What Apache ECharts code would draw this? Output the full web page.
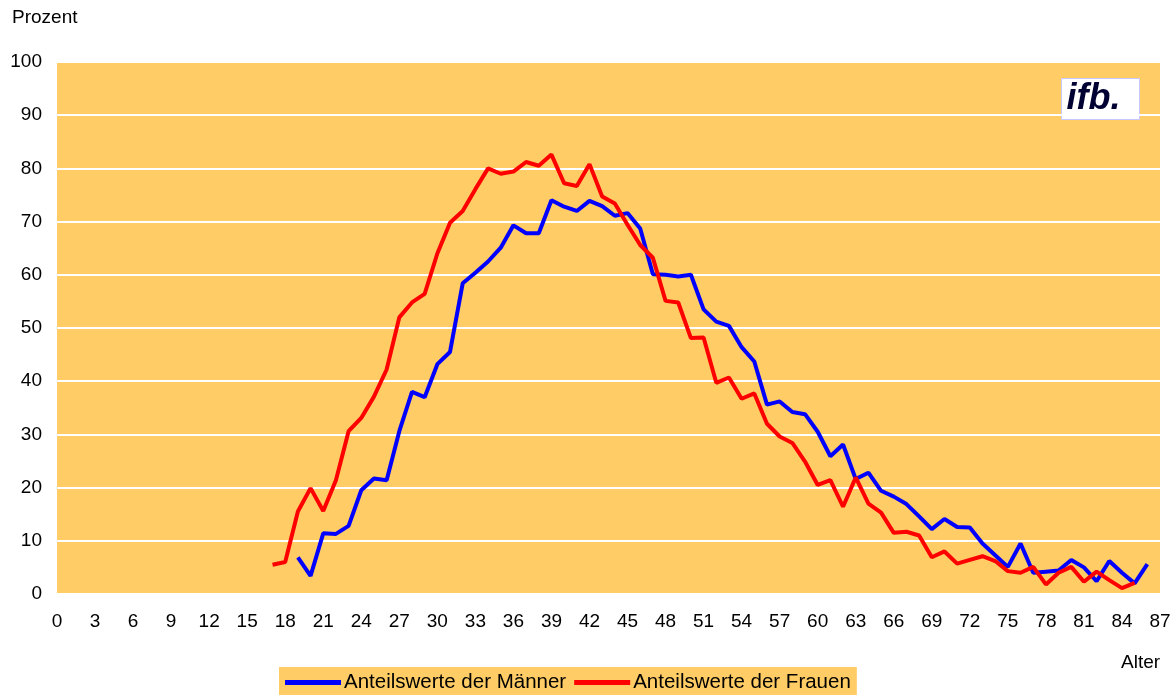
<!DOCTYPE html>
<html>
<head>
<meta charset="utf-8">
<title>Anteilswerte nach Alter</title>
<script src="https://cdn.jsdelivr.net/npm/echarts@6/dist/echarts.min.js"></script>
<style>
  html, body { margin: 0; padding: 0; background: #fff; }
  #chart { width: 1176px; height: 695px; }
</style>
</head>
<body>
<div id="chart"></div>
<script>
// values, one value per year of age
const menStartAge = 19;
const menValues = [
  6.9, 3.4, 11.4, 11.3, 12.8, 19.5, 21.7, 21.4, 30.6, 38.0,
  37.0, 43.2, 45.5, 58.4, 60.4, 62.5, 65.1, 69.3, 67.8, 67.8,
  74.0, 72.8, 72.0, 73.9, 72.9, 71.1, 71.6, 68.7, 60.1, 60.0,
  59.7, 60.0, 53.5, 51.2, 50.4, 46.4, 43.7, 35.6, 36.2, 34.2,
  33.8, 30.5, 25.9, 28.1, 21.6, 22.8, 19.4, 18.3, 16.9, 14.6,
  12.2, 14.1, 12.6, 12.5, 9.5, 7.3, 5.1, 9.5, 4.0, 4.2,
  4.4, 6.4, 5.0, 2.4, 6.2, 4.0, 2.0, 5.6
];

const womenStartAge = 17;
const womenValues = [
  5.5, 6.0, 15.5, 19.9, 15.6, 21.4, 30.6, 33.1, 37.1, 42.2,
  52.0, 54.8, 56.4, 64.0, 69.8, 72.0, 76.1, 80.0, 79.0, 79.4,
  81.2, 80.5, 82.6, 77.2, 76.7, 80.8, 74.7, 73.4, 69.4, 65.6,
  63.2, 55.1, 54.8, 48.1, 48.2, 39.7, 40.7, 36.7, 37.7, 32.0,
  29.6, 28.4, 24.9, 20.5, 21.4, 16.4, 21.9, 17.0, 15.3, 11.5,
  11.7, 11.0, 6.9, 8.0, 5.7, 6.4, 7.1, 6.2, 4.3, 4.0,
  5.1, 1.8, 4.0, 5.1, 2.3, 4.2, 2.6, 1.1, 2.1
];

const seriesNames = ['Anteilswerte der Männer', 'Anteilswerte der Frauen'];
const seriesColors = ['#0000ff', '#ff0000'];

const FONT = '"Liberation Sans", Arial, sans-serif';

function toPoints(startAge, values) {
  return values.map((v, i) => [startAge + i, v]);
}

const chart = echarts.init(document.getElementById('chart'));

chart.setOption({
  animation: false,
  textStyle: { fontFamily: FONT, color: '#000' },
  grid: {
    left: 57,
    right: 16,
    top: 62,
    bottom: 101,
    show: true,
    backgroundColor: '#ffcc66',
    borderWidth: 0
  },
  xAxis: {
    type: 'value',
    min: 0,
    max: 87,
    interval: 3,
    axisLine: { show: false },
    axisTick: { show: false },
    splitLine: { show: false },
    axisLabel: { fontSize: 19, color: '#000', margin: 18, fontFamily: FONT }
  },
  yAxis: {
    type: 'value',
    min: 0,
    max: 100,
    interval: 10,
    axisLine: { show: false },
    axisTick: { show: false },
    splitLine: { lineStyle: { color: '#ffffff', width: 2 } },
    axisLabel: { fontSize: 19, color: '#000', margin: 15, fontFamily: FONT }
  },
  legend: {
    left: 279,
    top: 667,
    data: seriesNames,
    icon: 'rect',
    itemWidth: 56,
    itemHeight: 5,
    itemGap: 8,
    padding: [5, 6, 8, 6],
    backgroundColor: '#ffcc66',
    textStyle: { fontSize: 20.5, color: '#000', fontFamily: FONT, padding: [0, 0, 0, -2] }
  },
  graphic: [
    {
      type: 'text',
      left: 12,
      top: 8,
      style: { text: 'Prozent', font: '19px ' + FONT, fill: '#000' }
    },
    {
      type: 'text',
      left: 1121,
      top: 653,
      style: { text: 'Alter', font: '19px ' + FONT, fill: '#000' }
    },
    {
      type: 'group',
      left: 1061,
      top: 78,
      children: [
        { type: 'rect', shape: { x: 0, y: 0, width: 78, height: 41 }, style: { fill: '#ffffff', stroke: '#c8c8ff', lineWidth: 1 } },
        {
          type: 'text',
          x: 5,
          y: 3,
          style: {
            text: 'ifb.',
            font: 'italic bold 36px ' + FONT,
            fill: '#000033',
            textShadowColor: '#3030ff',
            textShadowOffsetX: -2,
            textShadowOffsetY: -1,
            textShadowBlur: 0
          }
        }
      ]
    }
  ],
  series: [
    {
      name: seriesNames[0],
      type: 'line',
      data: toPoints(menStartAge, menValues),
      showSymbol: false,
      symbol: 'none',
      color: seriesColors[0],
      lineStyle: { color: seriesColors[0], width: 4 }
    },
    {
      name: seriesNames[1],
      type: 'line',
      data: toPoints(womenStartAge, womenValues),
      showSymbol: false,
      symbol: 'none',
      color: seriesColors[1],
      lineStyle: { color: seriesColors[1], width: 4 }
    }
  ]
});
</script>
</body>
</html>
